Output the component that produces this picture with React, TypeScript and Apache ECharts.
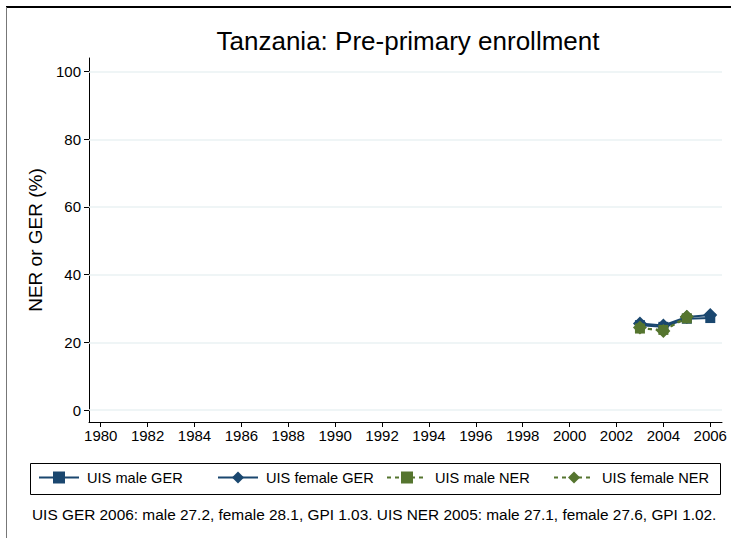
import React, { useEffect, useRef } from "react";
import * as echarts from "echarts";

const years = [2003, 2004, 2005, 2006];
const maleGER = [25.1, 24.6, 27.0, 27.2];
const femaleGER = [25.6, 25.0, 27.5, 28.1];
const maleNER = [24.1, 23.7, 27.1, null];
const femaleNER = [24.4, 23.4, 27.6, null];
const xTicks = [1980, 1982, 1984, 1986, 1988, 1990, 1992, 1994, 1996, 1998, 2000, 2002, 2004, 2006];
const yTicks = [0, 20, 40, 60, 80, 100];
const seriesNames = ["UIS male GER", "UIS female GER", "UIS male NER", "UIS female NER"];
const titleText = "Tanzania: Pre-primary enrollment";
const noteText = "UIS GER 2006: male 27.2, female 28.1, GPI 1.03. UIS NER 2005: male 27.1, female 27.6, GPI 1.02.";

const NAVY = "#1a476f";
const GREEN = "#55752f";
const FONT = "'Liberation Sans', Arial, Helvetica, sans-serif";

function pairs(vals: (number | null)[]) {
  return years.map((y, i) => [y, vals[i]]).filter((p) => p[1] !== null);
}

export default function App() {
  const ref = useRef<HTMLDivElement>(null);
  useEffect(() => {
    if (!ref.current) return;
    const chart = echarts.init(ref.current, undefined, { renderer: "svg" });
    const legendLefts = [38, 217, 386, 553];
    const colors = [NAVY, NAVY, GREEN, GREEN];
    const symbols = ["rect", "diamond", "rect", "diamond"];
    const sizes = [10, 14, 10, 14];
    const dashed = [false, false, true, true];
    const datas = [maleGER, femaleGER, maleNER, femaleNER];
    const option: any = {
      animation: false,
      backgroundColor: "#fff",
      textStyle: { fontFamily: FONT },
      grid: { left: 89, right: 9, top: 58, bottom: 116 },
      xAxis: {
        type: "value",
        min: 1979.5,
        max: 2006.5,
        axisLine: { onZero: false, lineStyle: { color: "#000", width: 1 } },
        axisTick: { customValues: xTicks, length: 5, lineStyle: { color: "#000" } },
        axisLabel: {
          customValues: xTicks, color: "#000", fontSize: 15, margin: 6, fontFamily: FONT,
          formatter: (v: number) => String(v),
        },
        splitLine: { show: false },
      },
      yAxis: {
        type: "value",
        min: -3.5,
        max: 104,
        name: "NER or GER (%)",
        nameLocation: "middle",
        nameGap: 42,
        nameTextStyle: { color: "#000", fontSize: 19, fontFamily: FONT },
        axisLine: { show: true, lineStyle: { color: "#000", width: 1 } },
        axisTick: { show: true, customValues: yTicks, length: 5, lineStyle: { color: "#000" } },
        axisLabel: {
          customValues: yTicks, color: "#000", fontSize: 15, margin: 8, fontFamily: FONT,
          formatter: (v: number) => String(v),
        },
        splitLine: { show: false },
      },
      legend: seriesNames.map((n, i) => ({
        data: [n],
        left: legendLefts[i],
        top: 470,
        padding: 0,
        itemWidth: 40,
        itemHeight: 15,
        selectedMode: false,
        textStyle: { color: "#000", fontSize: 14.6, fontFamily: FONT, padding: [0, 0, 0, 3] },
      })),
      series: seriesNames.map((n, i) => ({
        name: n,
        type: "line",
        data: pairs(datas[i]),
        symbol: symbols[i],
        symbolSize: sizes[i],
        showAllSymbol: true,
        itemStyle: { color: colors[i] },
        lineStyle: { color: colors[i], width: 2, type: dashed[i] ? [4, 4] : "solid" },
        z: 3,
        markLine: i === 0 ? {
          silent: true,
          symbol: "none",
          label: { show: false },
          lineStyle: { color: "#eaf2f3", width: 1.5, type: "solid" },
          z: 1,
          data: yTicks.map((v) => ({ yAxis: v })),
        } : undefined,
      })),
      graphic: [
        { type: "line", shape: { x1: 6, y1: 7, x2: 731, y2: 7 }, style: { stroke: "#000", lineWidth: 2 } },
        { type: "line", shape: { x1: 6.5, y1: 7, x2: 6.5, y2: 538 }, style: { stroke: "#777", lineWidth: 1 } },
        {
          type: "text", x: 408, y: 41,
          style: { text: titleText, fontSize: 26, fontFamily: FONT, fill: "#000", textAlign: "center", textVerticalAlign: "middle" },
        },
        {
          type: "rect", shape: { x: 30.5, y: 463.5, width: 690, height: 31 },
          style: { fill: "none", stroke: "#000", lineWidth: 1 },
        },
        {
          type: "text", x: 32, y: 514,
          style: { text: noteText, fontSize: 15.4, fontFamily: FONT, fill: "#000", textAlign: "left", textVerticalAlign: "middle" },
        },
      ],
    };
    chart.setOption(option);
    return () => chart.dispose();
  }, []);
  return <div ref={ref} style={{ position: "absolute", left: 0, top: 0, width: 731, height: 538 }} />;
}
